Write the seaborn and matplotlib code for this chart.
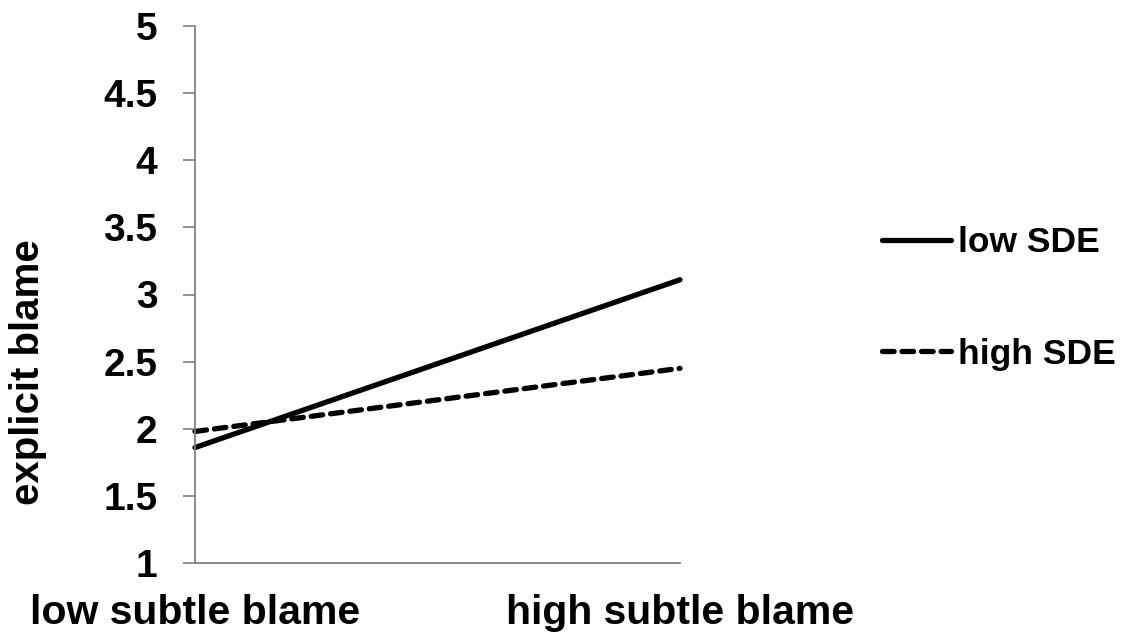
import numpy as np
import pandas as pd
import seaborn as sns
import matplotlib.pyplot as plt

# values
conditions = ["low subtle blame", "high subtle blame"]
groups = ["low SDE", "high SDE"]
low_sde = [1.86, 3.11]
high_sde = [1.98, 2.45]
y_ticks = [1, 1.5, 2, 2.5, 3, 3.5, 4, 4.5, 5]

sns.set_style("white")
plt.rcParams['font.family'] = ['Liberation Sans', 'DejaVu Sans']
plt.rcParams['font.weight'] = 'bold'
plt.rcParams['text.color'] = 'black'
plt.rcParams['axes.labelcolor'] = 'black'
plt.rcParams['xtick.color'] = 'black'
plt.rcParams['ytick.color'] = 'black'

df = pd.DataFrame({
    'pos': list(range(len(conditions))) * 2,
    'blame': low_sde + high_sde,
    'group': [groups[0]] * len(conditions) + [groups[1]] * len(conditions),
})

fig = plt.figure(figsize=(11.44, 6.36), dpi=100)
ax = fig.add_axes([195 / 1144, 73 / 636, 485 / 1144, 537 / 636])

sns.lineplot(data=df, x='pos', y='blame', hue='group', style='group',
             palette=['black', 'black'],
             dashes={groups[0]: '', groups[1]: (2.2, 1.5)},
             linewidth=3.8, ax=ax, clip_on=False)
for line in ax.lines:
    line.set_solid_capstyle('round')
    line.set_dash_capstyle('round')

ax.set_xlim(0, len(conditions) - 1)
ax.set_ylim(y_ticks[0], y_ticks[-1])
ax.set_xticks(range(len(conditions)))
ax.set_xticklabels(conditions, fontsize=29.5, fontweight='bold')
ax.set_yticks(y_ticks)
ax.set_yticklabels([f"{v:g}" for v in y_ticks], fontsize=28, fontweight='bold')
ax.tick_params(axis='x', length=0, pad=22)
ax.tick_params(axis='y', length=9, width=1.2, color='#808080', pad=18, left=True)
ax.set_xlabel('')
ax.set_ylabel('explicit blame', fontsize=29, fontweight='bold')
ax.yaxis.set_label_coords(-0.305, 0.356)

for side in ['top', 'right']:
    ax.spines[side].set_visible(False)
for side in ['left', 'bottom']:
    ax.spines[side].set_color('#808080')
    ax.spines[side].set_linewidth(1.3)

handles, labels = ax.get_legend_handles_labels()
ax.get_legend().remove()
fig.legend(handles, labels, loc='upper left', bbox_to_anchor=(882 / 1144, 1 - 226 / 636),
           frameon=False, handlelength=1.95, handletextpad=0.2,
           borderpad=0, borderaxespad=0, labelspacing=2.22,
           prop={'weight': 'bold', 'size': 25.5})

fig.savefig('out.png', dpi=100)
